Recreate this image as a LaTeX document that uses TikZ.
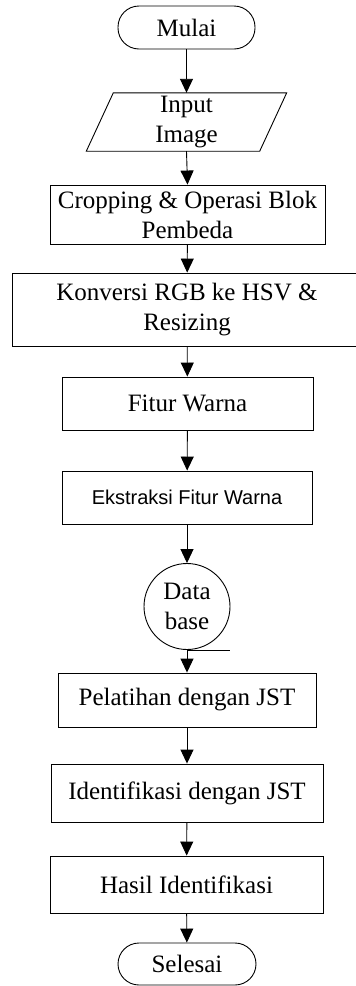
\documentclass[tikz,border=0pt]{standalone}
\usepackage{fontspec}
\setmainfont{Liberation Serif}
\newfontfamily\arialfont{Liberation Sans}
\usetikzlibrary{arrows.meta,calc}
\tikzset{
  every node/.style={font=\fontsize{25}{30}\selectfont, align=center, inner sep=0pt},
  box/.style={draw, line width=0.9pt, rectangle},
  term/.style={draw, line width=0.9pt, rounded corners=21pt},
  flow/.style={-{Triangle[width=13pt,length=14pt]}, line width=0.9pt},
}
\begin{document}
\begin{tikzpicture}[x=1pt,y=-1pt]
\path[use as bounding box] (0,0) rectangle (356,986);

% terminator: start
\node[term, minimum width=137pt, minimum height=43pt] (start) at (186.5,27.5) {Mulai};

% input parallelogram (outline drawn from the node corners)
\node[minimum width=173pt, minimum height=58pt] (input) at (186.5,122) {Input\\Image};
\draw[line width=0.9pt] ($(input.north west)+(13.5pt,0)$) -- ($(input.north east)+(13.5pt,0)$)
  -- ($(input.south east)+(-13.5pt,0)$) -- ($(input.south west)+(-13.5pt,0)$) -- cycle;

% processing steps
\node[box, minimum width=275pt, minimum height=59pt] (crop) at (187.5,214.5) {Cropping \& Operasi Blok\\Pembeda};
\node[box, minimum width=350pt, minimum height=73pt] (hsv) at (187,309.5) {Konversi RGB ke HSV \&\\Resizing};
\node[box, minimum width=251pt, minimum height=53pt] (fitur) at (187.5,403.5) {Fitur Warna};
\node[box, minimum width=250pt, minimum height=53pt, font=\arialfont\fontsize{20}{24}\selectfont] (ekstr) at (187,497.5) {Ekstraksi Fitur Warna};

% stored data (sequential storage symbol)
\node[draw, circle, line width=0.9pt, minimum size=86pt] (db) at (187,606.5) {Data\\base};
\draw[line width=0.9pt] (db.south) -- ++(43,0);

\node[box, minimum width=258pt, minimum height=54pt] (latih) at (187,700) {Pelatihan dengan JST};
\node[box, minimum width=272pt, minimum height=58pt] (ident) at (187,793) {Identifikasi dengan JST};
\node[box, minimum width=273pt, minimum height=57pt] (hasil) at (186.5,884.5) {Hasil Identifikasi};

% terminator: end
\node[term, minimum width=138pt, minimum height=42pt] (end) at (187,964) {Selesai};

% flow connectors
\draw[flow] (start) -- (input);
\draw[flow] (input.south) -- (crop.north);
\draw[flow] (crop) -- (hsv);
\draw[flow] (hsv) -- (fitur);
\draw[flow] (fitur) -- (ekstr);
\draw[flow] (ekstr) -- (db);
\draw[flow] (db) -- (latih);
\draw[flow] (latih) -- (ident);
\draw[flow] (ident) -- (hasil);
\draw[flow] (hasil) -- (end);
\end{tikzpicture}
\end{document}
